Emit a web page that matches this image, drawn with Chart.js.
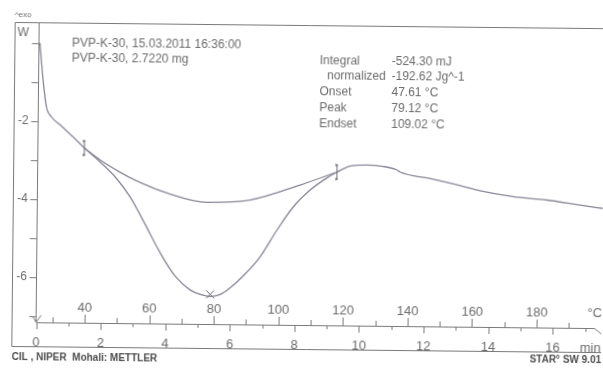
<!DOCTYPE html>
<html>
<head>
<meta charset="utf-8">
<script src="https://cdn.jsdelivr.net/npm/chart.js@4.4.1/dist/chart.umd.min.js"></script>
<style>
  html, body { margin: 0; padding: 0; background: #fff; }
  #wrap { width: 603px; height: 371px; overflow: hidden; }
  /* the printout sits slightly crooked */
  canvas { display: block; transform: rotate(0.6deg); }
</style>
</head>
<body>
<div id="wrap"><canvas id="dsc" width="603" height="371"></canvas></div>
<script>
// DSC scan of PVP-K-30: time in min, heat flow in mW
const timeMin = [0.03, 0.14, 0.25, 0.41, 0.72, 1.14, 1.44, 1.93, 2.40, 2.87, 3.34, 3.81, 4.29, 4.76, 5.07, 5.38, 5.69, 5.99, 6.39, 6.91, 7.43, 7.92, 8.44, 8.96, 9.27, 9.67, 10.20, 10.69, 11.13, 11.22, 12.15, 13.17, 13.70, 14.72, 15.78, 16.80, 17.52];
const heatFlow = [0.00, -0.95, -1.63, -1.89, -2.12, -2.44, -2.68, -3.03, -3.41, -3.92, -4.61, -5.33, -5.94, -6.29, -6.40, -6.45, -6.40, -6.23, -5.92, -5.43, -4.73, -4.14, -3.70, -3.38, -3.23, -3.07, -3.04, -3.07, -3.16, -3.21, -3.37, -3.56, -3.67, -3.81, -3.89, -4.01, -4.09];

// integration baseline between the two limits
const baseTime = [1.44, 1.93, 2.55, 3.02, 4.01, 5.25, 6.58, 8.13, 9.27];
const baseFlow = [-2.68, -2.98, -3.29, -3.49, -3.81, -4.04, -3.97, -3.57, -3.23];

const flowTicks = [0, -1, -2, -3, -4, -5, -6, -7];
const flowLabels = ['W', '', '-2', '', '-4', '', '-6', ''];
const tempTicks = [30, 40, 50, 60, 70, 80, 90, 100, 110, 120, 130, 140, 150, 160, 170, 180, 190];
const timeTicks = [0, 1, 2, 3, 4, 5, 6, 7, 8, 9, 10, 11, 12, 13, 14, 15, 16, 17];
const startTemp = 25;   // °C at 0 min
const heatRate = 10;    // K/min

const headerLines = ['PVP-K-30, 15.03.2011 16:36:00', 'PVP-K-30, 2.7220 mg'];
const infoLabels = ['Integral', 'normalized', 'Onset', 'Peak', 'Endset'];
const infoValues = ['-524.30 mJ', '-192.62 Jg^-1', '47.61 °C', '79.12 °C', '109.02 °C'];

const ink = '#7a7a7a';
const textInk = '#6c6c6c';
const curveInk = '#8a8596';
const font = '"Liberation Sans", Arial, sans-serif';

function toPoints(xs, ys) {
    return xs.map((v, i) => ({ x: v, y: ys[i] }));
}

const decor = {
    id: 'decor',
    beforeDatasetsDraw(chart) {
        const { ctx, scales: { x, y } } = chart;
        const left = x.left, axisY = y.bottom;
        ctx.save();
        ctx.strokeStyle = ink;
        ctx.lineWidth = 1;

        // outer frame (open on the right)
        ctx.beginPath();
        ctx.moveTo(603, 25.5);
        ctx.lineTo(13.5, 25.5);
        ctx.lineTo(13.5, 349.5);
        ctx.lineTo(603, 349.5);
        ctx.stroke();

        // heat flow axis
        ctx.beginPath();
        ctx.moveTo(left, y.top);
        ctx.lineTo(left, axisY);
        flowTicks.forEach(v => {
            const py = Math.round(y.getPixelForValue(v)) + 0.5;
            ctx.moveTo(left - 7, py);
            ctx.lineTo(left, py);
        });
        ctx.stroke();

        ctx.fillStyle = textInk;
        ctx.font = '12px ' + font;
        ctx.textAlign = 'right';
        ctx.textBaseline = 'middle';
        flowTicks.forEach((v, i) => {
            if (!flowLabels[i]) return;
            const py = y.getPixelForValue(v);
            if (flowLabels[i] === 'W') {
                ctx.textAlign = 'left';
                ctx.fillText('W', 16, py - 10);
                ctx.textAlign = 'right';
            } else {
                ctx.fillText(flowLabels[i], 28, py);
            }
        });

        // temperature axis with ticks above, time ticks below
        ctx.beginPath();
        ctx.moveTo(left, axisY + 0.5);
        ctx.lineTo(596, axisY + 0.5);
        ctx.lineTo(603, axisY + 6);
        tempTicks.forEach(T => {
            const px = Math.round(x.getPixelForValue((T - startTemp) / heatRate)) + 0.5;
            const len = T % 20 === 0 ? 8 : 5;
            ctx.moveTo(px, axisY);
            ctx.lineTo(px, axisY - len);
        });
        timeTicks.forEach(t => {
            const px = Math.round(x.getPixelForValue(t)) + 0.5;
            const len = t % 2 === 0 ? 7 : 4;
            ctx.moveTo(px, axisY);
            ctx.lineTo(px, axisY + len);
        });
        // start mark of the temperature axis
        ctx.moveTo(left - 3, axisY - 5);
        ctx.lineTo(left, axisY);
        ctx.lineTo(left + 5, axisY - 7);
        ctx.stroke();

        ctx.font = '13px ' + font;
        ctx.textAlign = 'center';
        ctx.textBaseline = 'alphabetic';
        tempTicks.forEach(T => {
            if (T % 20 !== 0) return;
            const px = x.getPixelForValue((T - startTemp) / heatRate);
            ctx.fillText(String(T), px, axisY - 11);
        });
        ctx.fillText('°C', 596, axisY - 11);
        timeTicks.forEach(t => {
            if (t % 2 !== 0) return;
            const px = x.getPixelForValue(t);
            ctx.fillText(String(t), px, 349);
        });
        ctx.fillText('min', 592, 349);

        // header and evaluation text
        ctx.textAlign = 'left';
        ctx.font = '8px ' + font;
        ctx.fillText('^exo', 13, 20);
        ctx.font = '12px ' + font;
        headerLines.forEach((s, i) => ctx.fillText(s, 70.5, 48.5 + i * 15));
        infoLabels.forEach((s, i) => {
            const by = 63.7 + i * 15.7;
            ctx.fillText(s, i === 1 ? 326 : 318.5, by);
            ctx.fillText(infoValues[i], 390.5, by);
        });

        ctx.fillStyle = '#4e4e4e';
        ctx.font = 'bold 10px ' + font;
        ctx.fillText('CIL , NIPER  Mohali: METTLER', 13.5, 363);
        ctx.textAlign = 'right';
        ctx.fillText('STAR\u00b0 SW 9.01', 603, 360);
        ctx.restore();
    },
    afterDatasetsDraw(chart) {
        const { ctx, scales: { x, y } } = chart;
        ctx.save();
        ctx.strokeStyle = '#6f6a78';
        ctx.fillStyle = '#6f6a78';
        ctx.lineWidth = 1;

        // integration limits
        [0, baseTime.length - 1].forEach(i => {
            const px = x.getPixelForValue(baseTime[i]);
            const py = y.getPixelForValue(baseFlow[i]);
            ctx.beginPath();
            ctx.moveTo(px, py - 7);
            ctx.lineTo(px, py + 7);
            ctx.stroke();
            [-7, 7].forEach(d => {
                ctx.beginPath();
                ctx.moveTo(px - 1.5, py + d - 1.5);
                ctx.lineTo(px + 1.5, py + d);
                ctx.lineTo(px - 1.5, py + d + 1.5);
                ctx.fill();
            });
        });

        // peak mark
        let k = 0;
        heatFlow.forEach((v, i) => { if (v < heatFlow[k]) k = i; });
        const qx = x.getPixelForValue(timeMin[k]);
        const qy = y.getPixelForValue(heatFlow[k]);
        ctx.beginPath();
        ctx.moveTo(qx - 4, qy - 6);
        ctx.lineTo(qx + 4, qy + 2);
        ctx.moveTo(qx + 4, qy - 6);
        ctx.lineTo(qx - 4, qy + 2);
        ctx.stroke();
        ctx.restore();
    }
};

new Chart(document.getElementById('dsc'), {
    type: 'line',
    data: {
        datasets: [{
            label: 'PVP-K-30',
            data: toPoints(timeMin, heatFlow),
            borderColor: curveInk,
            borderWidth: 1.3,
            pointRadius: 0,
            cubicInterpolationMode: 'monotone'
        }, {
            label: 'baseline',
            data: toPoints(baseTime, baseFlow),
            borderColor: curveInk,
            borderWidth: 1.3,
            pointRadius: 0,
            cubicInterpolationMode: 'monotone'
        }]
    },
    options: {
        responsive: false,
        animation: false,
        devicePixelRatio: 1,
        events: [],
        layout: { padding: { left: 37.5, top: 25, right: 0, bottom: 46 } },
        scales: {
            x: { type: 'linear', min: 0, max: 17.51, display: false },
            y: { min: -7.159, max: 0.533, display: false }
        },
        plugins: {
            legend: { display: false },
            tooltip: { enabled: false }
        }
    },
    plugins: [decor]
});
</script>
</body>
</html>
